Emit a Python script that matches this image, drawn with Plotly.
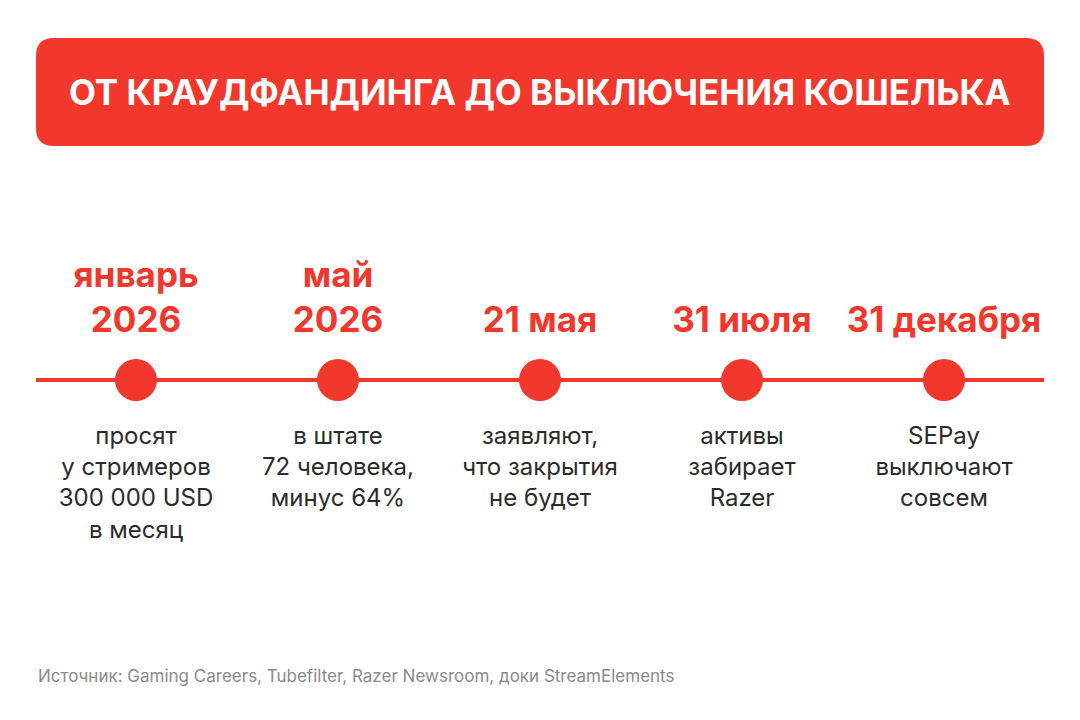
import plotly.graph_objects as go

title = "ОТ КРАУДФАНДИНГА ДО ВЫКЛЮЧЕНИЯ КОШЕЛЬКА"
dates = ["январь<br>2026", "май<br>2026", "21 мая", "31 июля", "31 декабря"]
descs = ["просят<br>у стримеров<br>300 000 USD<br>в месяц",
         "в штате<br>72 человека,<br>минус 64%",
         "заявляют,<br>что закрытия<br>не будет",
         "активы<br>забирает<br>Razer",
         "SEPay<br>выключают<br>совсем"]
source = "Источник: Gaming Careers, Tubefilter, Razer Newsroom, доки StreamElements"
idx = list(range(len(dates)))

RED = "#f2372c"
W, H = 1080, 720
x0p, step = 136, 202
xr = [(0 - x0p) / step, (W - x0p) / step]
FONT = "Inter"

fig = go.Figure()
fig.add_trace(go.Scatter(x=idx, y=[380]*5, mode="markers",
                         marker=dict(size=42, color=RED, line=dict(width=0)),
                         hoverinfo="skip", showlegend=False))
fig.add_trace(go.Scatter(x=idx, y=[341]*5, mode="text", text=["<b>%s</b>" % d for d in dates],
                         textposition="top center",
                         textfont=dict(family=FONT, size=35, color=RED),
                         hoverinfo="skip", showlegend=False))
fig.add_trace(go.Scatter(x=idx, y=[426]*5, mode="text", text=descs,
                         textposition="bottom center",
                         textfont=dict(family=FONT, size=24, color="#2b2b2b"),
                         hoverinfo="skip", showlegend=False))

def px(x): return x / W
def py(y): return 1 - y / H
L, R, T, B, r = 36, 1044, 38, 146, 18
path = (f"M {px(L+r)} {py(T)} L {px(R-r)} {py(T)} Q {px(R)} {py(T)} {px(R)} {py(T+r)} "
        f"L {px(R)} {py(B-r)} Q {px(R)} {py(B)} {px(R-r)} {py(B)} L {px(L+r)} {py(B)} "
        f"Q {px(L)} {py(B)} {px(L)} {py(B-r)} L {px(L)} {py(T+r)} Q {px(L)} {py(T)} {px(L+r)} {py(T)} Z")
fig.add_shape(type="path", path=path, xref="paper", yref="paper", fillcolor=RED, line_width=0, layer="below")
fig.add_shape(type="line", xref="paper", yref="y", x0=px(36), x1=px(1044), y0=380, y1=380,
              line=dict(color=RED, width=4), layer="below")
fig.add_annotation(xref="paper", yref="paper", x=0.5, y=py(92), yanchor="middle", text="<b>%s</b>" % title,
                   showarrow=False, font=dict(family=FONT, size=35, color="white"))
fig.add_annotation(xref="paper", yref="paper", x=px(36), y=py(676), xanchor="left", yanchor="middle",
                   text=source, showarrow=False, font=dict(family=FONT, size=17, color="#8a8a8a"))

fig.update_layout(width=W, height=H, margin=dict(l=0, r=0, t=0, b=0),
                  paper_bgcolor="white", plot_bgcolor="white",
                  xaxis=dict(range=xr, visible=False, fixedrange=True),
                  yaxis=dict(range=[H, 0], visible=False, fixedrange=True))
fig.write_html("out.html", config={"displayModeBar": False})
with open("out.html", encoding="utf-8") as f:
    html = f.read()
html = html.replace("<head>", "<head><style>body{margin:0;overflow:hidden}</style>", 1)
with open("out.html", "w", encoding="utf-8") as f:
    f.write(html)
